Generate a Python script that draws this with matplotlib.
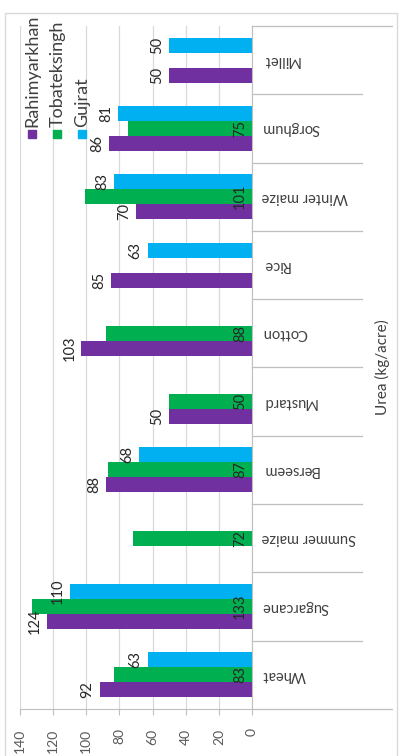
import numpy as np
import matplotlib.pyplot as plt
from matplotlib.patches import Rectangle
from matplotlib.transforms import blended_transform_factory

plt.rcParams['font.family'] = ['Lato', 'DejaVu Sans']

# data (kg/acre of urea), nan = no bar
crops = ['Wheat', 'Sugarcane', 'Summer maize', 'Berseem', 'Mustard',
         'Cotton', 'Rice', 'Winter maize', 'Sorghum', 'Millet']
rahimyarkhan = [92, 124, np.nan, 88, 50, 103, 85, 70, 86, 50]
tobateksingh = [83, 133, 72, 87, 50, 88, np.nan, 101, 75, np.nan]
gujrat = [63, 110, np.nan, 68, np.nan, np.nan, 63, 83, 81, 50]

series = [('Rahimyarkhan', rahimyarkhan, '#7030A0', 'end'),
          ('Tobateksingh', tobateksingh, '#00B050', 'base'),
          ('Gujrat', gujrat, '#00B0F0', 'end')]

W, H = 401, 756
fig = plt.figure(figsize=(W / 100, H / 100), dpi=100)
ax = fig.add_axes([20 / W, 1 - 709 / H, 232 / W, 683 / H])

# outer chart border
fig.patches.append(Rectangle((5 / W, -0.05), 392 / W, 1.05 - 13 / H,
                             transform=fig.transFigure, fill=False,
                             edgecolor='#d9d9d9', linewidth=1.0))

y = np.arange(len(crops))
bw = 0.22
label_col = '#262626'
for i, (name, vals, col, pos) in enumerate(series):
    vals = np.array(vals, dtype=float)
    yy = y + (i - 1) * bw
    ax.barh(yy, vals, height=bw, color=col, zorder=3)
    for yv, v in zip(yy, vals):
        if np.isnan(v):
            continue
        xv = v if pos == 'end' else 0
        ax.annotate(f'{v:.0f}', (xv, yv), xytext=(-3.5, 0),
                    textcoords='offset points', rotation=90,
                    ha='right', va='center', fontsize=10.5,
                    color=label_col, zorder=5)

ax.set_xlim(140, 0)
ax.set_ylim(-0.5, len(crops) - 0.5)
ax.set_xticks(np.arange(0, 141, 20))
ax.tick_params(axis='x', length=4, width=0.8, color='#bfbfbf', pad=10,
               labelsize=10, labelcolor='#595959', labelrotation=90)
ax.set_yticks([])
ax.grid(axis='x', color='#d9d9d9', linewidth=0.9, zorder=0)
for s in ['top', 'left']:
    ax.spines[s].set_visible(False)
ax.spines['bottom'].set_color('#bfbfbf')
ax.spines['right'].set_color('#bfbfbf')
ax.spines['right'].set_zorder(4)

# category separators and labels on the right
tr = blended_transform_factory(ax.transAxes, ax.transData)
for k in range(len(crops) + 1):
    x1 = 1.603 if k in (0, len(crops)) else 1.474
    ax.plot([1, x1], [k - 0.5, k - 0.5], transform=tr, color='#bfbfbf',
            linewidth=0.9, clip_on=False)
for k, c in enumerate(crops):
    ax.text((262 - 20) / 232, k, c, transform=tr, rotation=180,
            ha='left', va='center', fontsize=10.5, color='#404040')

fig.text(382 / W, 1 - 367 / H, 'Urea (kg/acre)', rotation=90,
         ha='center', va='center', fontsize=11, color='#404040')

# legend drawn by hand, entries stacked left to right
for (name, vals, col, pos), xc in zip(series, [32, 57.5, 82]):
    fig.patches.append(Rectangle(((xc - 4) / W, 1 - 138 / H), 8 / W, 8 / H,
                                 transform=fig.transFigure, color=col))
    fig.text(xc / W, 1 - 127 / H, name, rotation=90, ha='center',
             va='bottom', fontsize=13, color='#404040')

fig.savefig('out.png', dpi=100)
